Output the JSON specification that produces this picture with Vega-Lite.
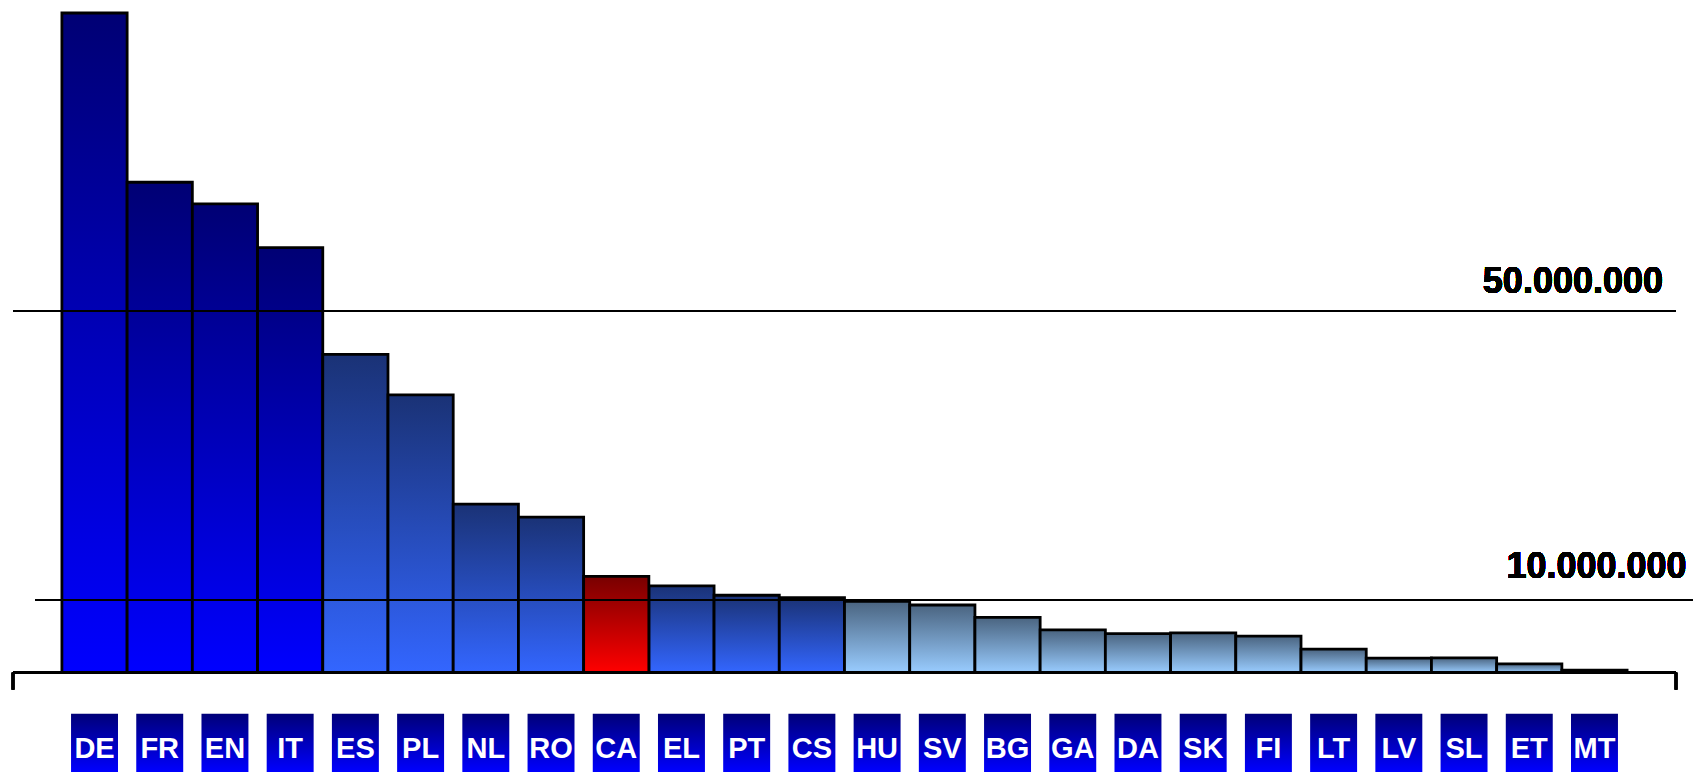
{
  "$schema": "https://vega.github.io/schema/vega-lite/v6.json",
  "width": 1663,
  "height": 772,
  "padding": {"left": 13, "right": 17, "top": 0, "bottom": 0},
  "autosize": {"type": "none"},
  "background": "white",
  "config": {"view": {"stroke": null}},
  "data": {
    "values": [
      {"lang": "DE", "value": 91200000, "group": "navy"},
      {"lang": "FR", "value": 67800000, "group": "navy"},
      {"lang": "EN", "value": 64800000, "group": "navy"},
      {"lang": "IT", "value": 58750000, "group": "navy"},
      {"lang": "ES", "value": 44000000, "group": "mid"},
      {"lang": "PL", "value": 38400000, "group": "mid"},
      {"lang": "NL", "value": 23300000, "group": "mid"},
      {"lang": "RO", "value": 21500000, "group": "mid"},
      {"lang": "CA", "value": 13300000, "group": "red"},
      {"lang": "EL", "value": 12000000, "group": "mid"},
      {"lang": "PT", "value": 10700000, "group": "mid"},
      {"lang": "CS", "value": 10350000, "group": "mid"},
      {"lang": "HU", "value": 9850000, "group": "light"},
      {"lang": "SV", "value": 9350000, "group": "light"},
      {"lang": "BG", "value": 7650000, "group": "light"},
      {"lang": "GA", "value": 5900000, "group": "light"},
      {"lang": "DA", "value": 5400000, "group": "light"},
      {"lang": "SK", "value": 5500000, "group": "light"},
      {"lang": "FI", "value": 5050000, "group": "light"},
      {"lang": "LT", "value": 3250000, "group": "light"},
      {"lang": "LV", "value": 2000000, "group": "light"},
      {"lang": "SL", "value": 2050000, "group": "light"},
      {"lang": "ET", "value": 1200000, "group": "light"},
      {"lang": "MT", "value": 350000, "group": "light"}
    ]
  },
  "layer": [
    {
      "transform": [{"filter": "datum.group === 'navy'"}],
      "mark": {"type": "bar", "stroke": "black", "strokeWidth": 2.8,
        "color": {"gradient": "linear", "x1": 0, "y1": 0, "x2": 0, "y2": 1,
          "stops": [{"offset": 0, "color": "#000074"}, {"offset": 1, "color": "#0000FF"}]}},
      "encoding": {
        "x": {"field": "lang", "type": "nominal", "sort": null, "axis": null,
          "scale": {"type": "band", "domain": ["DE","FR","EN","IT","ES","PL","NL","RO","CA","EL","PT","CS","HU","SV","BG","GA","DA","SK","FI","LT","LV","SL","ET","MT"], "paddingInner": 0, "paddingOuter": 0.75}},
        "y": {"field": "value", "type": "quantitative", "axis": null, "stack": null,
          "scale": {"domain": [-13740000, 93000000], "nice": false, "zero": false}},
        "y2": {"datum": 0}
      }
    },
    {
      "transform": [{"filter": "datum.group === 'mid'"}],
      "mark": {"type": "bar", "stroke": "black", "strokeWidth": 2.8,
        "color": {"gradient": "linear", "x1": 0, "y1": 0, "x2": 0, "y2": 1,
          "stops": [{"offset": 0, "color": "#1A3276"}, {"offset": 1, "color": "#3366FF"}]}},
      "encoding": {
        "x": {"field": "lang", "type": "nominal", "sort": null, "axis": null,
          "scale": {"type": "band", "domain": ["DE","FR","EN","IT","ES","PL","NL","RO","CA","EL","PT","CS","HU","SV","BG","GA","DA","SK","FI","LT","LV","SL","ET","MT"], "paddingInner": 0, "paddingOuter": 0.75}},
        "y": {"field": "value", "type": "quantitative", "axis": null, "stack": null},
        "y2": {"datum": 0}
      }
    },
    {
      "transform": [{"filter": "datum.group === 'red'"}],
      "mark": {"type": "bar", "stroke": "black", "strokeWidth": 2.8,
        "color": {"gradient": "linear", "x1": 0, "y1": 0, "x2": 0, "y2": 1,
          "stops": [{"offset": 0, "color": "#780000"}, {"offset": 1, "color": "#FF0000"}]}},
      "encoding": {
        "x": {"field": "lang", "type": "nominal", "sort": null, "axis": null,
          "scale": {"type": "band", "domain": ["DE","FR","EN","IT","ES","PL","NL","RO","CA","EL","PT","CS","HU","SV","BG","GA","DA","SK","FI","LT","LV","SL","ET","MT"], "paddingInner": 0, "paddingOuter": 0.75}},
        "y": {"field": "value", "type": "quantitative", "axis": null, "stack": null},
        "y2": {"datum": 0}
      }
    },
    {
      "transform": [{"filter": "datum.group === 'light'"}],
      "mark": {"type": "bar", "stroke": "black", "strokeWidth": 2.8,
        "color": {"gradient": "linear", "x1": 0, "y1": 0, "x2": 0, "y2": 1,
          "stops": [{"offset": 0, "color": "#4A6480"}, {"offset": 1, "color": "#99CCFF"}]}},
      "encoding": {
        "x": {"field": "lang", "type": "nominal", "sort": null, "axis": null,
          "scale": {"type": "band", "domain": ["DE","FR","EN","IT","ES","PL","NL","RO","CA","EL","PT","CS","HU","SV","BG","GA","DA","SK","FI","LT","LV","SL","ET","MT"], "paddingInner": 0, "paddingOuter": 0.75}},
        "y": {"field": "value", "type": "quantitative", "axis": null, "stack": null},
        "y2": {"datum": 0}
      }
    },
    {
      "mark": {"type": "bar", "width": {"band": 0.72},
        "color": {"gradient": "linear", "x1": 0, "y1": 0, "x2": 0, "y2": 1,
          "stops": [{"offset": 0, "color": "#000078"}, {"offset": 1, "color": "#0000FF"}]}},
      "encoding": {
        "x": {"field": "lang", "type": "nominal", "sort": null, "axis": null,
          "scale": {"type": "band", "domain": ["DE","FR","EN","IT","ES","PL","NL","RO","CA","EL","PT","CS","HU","SV","BG","GA","DA","SK","FI","LT","LV","SL","ET","MT"], "paddingInner": 0, "paddingOuter": 0.75}},
        "y": {"datum": -5700000, "type": "quantitative"},
        "y2": {"datum": -13740000}
      }
    },
    {
      "mark": {"type": "text", "font": "Liberation Sans", "fontWeight": "bold", "fontSize": 29, "color": "white", "align": "center", "baseline": "alphabetic"},
      "encoding": {
        "x": {"field": "lang", "type": "nominal", "sort": null, "axis": null, "bandPosition": 0.5,
          "scale": {"type": "band", "domain": ["DE","FR","EN","IT","ES","PL","NL","RO","CA","EL","PT","CS","HU","SV","BG","GA","DA","SK","FI","LT","LV","SL","ET","MT"], "paddingInner": 0, "paddingOuter": 0.75}},
        "y": {"datum": -11850000, "type": "quantitative"},
        "text": {"field": "lang"}
      }
    },
    {
      "mark": {"type": "rule", "color": "black", "strokeWidth": 2.2},
      "encoding": {
        "x": {"datum": 0, "type": "quantitative", "axis": null, "scale": {"domain": [0, 1], "nice": false, "zero": false}},
        "x2": {"datum": 1},
        "y": {"datum": 50000000, "type": "quantitative"}
      }
    },
    {
      "mark": {"type": "rule", "color": "black", "strokeWidth": 1.5},
      "encoding": {
        "x": {"datum": 0.0136, "type": "quantitative", "axis": null, "scale": {"domain": [0, 1], "nice": false, "zero": false}},
        "x2": {"datum": 1.0102},
        "y": {"datum": 10000000, "type": "quantitative"}
      }
    },
    {
      "mark": {"type": "rule", "color": "black", "strokeWidth": 2.2},
      "encoding": {
        "x": {"datum": 0, "type": "quantitative", "axis": null, "scale": {"domain": [0, 1], "nice": false, "zero": false}},
        "x2": {"datum": 1},
        "y": {"datum": 0, "type": "quantitative"}
      }
    },
    {
      "mark": {"type": "rule", "color": "black", "strokeWidth": 2.2},
      "encoding": {
        "x": {"datum": 0, "type": "quantitative", "axis": null, "scale": {"domain": [0, 1], "nice": false, "zero": false}},
        "y": {"datum": 0, "type": "quantitative"},
        "y2": {"datum": -2350000}
      }
    },
    {
      "mark": {"type": "rule", "color": "black", "strokeWidth": 2.2},
      "encoding": {
        "x": {"datum": 1, "type": "quantitative", "axis": null, "scale": {"domain": [0, 1], "nice": false, "zero": false}},
        "y": {"datum": 0, "type": "quantitative"},
        "y2": {"datum": -2350000}
      }
    },
    {
      "mark": {"type": "text", "font": "Liberation Sans", "fontWeight": "bold", "fontSize": 36, "color": "black", "align": "right", "baseline": "alphabetic", "dy": -17.7},
      "encoding": {
        "x": {"datum": 0.9922, "type": "quantitative", "axis": null, "scale": {"domain": [0, 1], "nice": false, "zero": false}},
        "y": {"datum": 50000000, "type": "quantitative"},
        "text": {"value": "50.000.000"}
      }
    },
    {
      "mark": {"type": "text", "font": "Liberation Sans", "fontWeight": "bold", "fontSize": 36, "color": "black", "align": "right", "baseline": "alphabetic", "dy": -22},
      "encoding": {
        "x": {"datum": 1.0064, "type": "quantitative", "axis": null, "scale": {"domain": [0, 1], "nice": false, "zero": false}},
        "y": {"datum": 10000000, "type": "quantitative"},
        "text": {"value": "10.000.000"}
      }
    }
  ],
  "resolve": {"scale": {"x": "independent"}}
}
